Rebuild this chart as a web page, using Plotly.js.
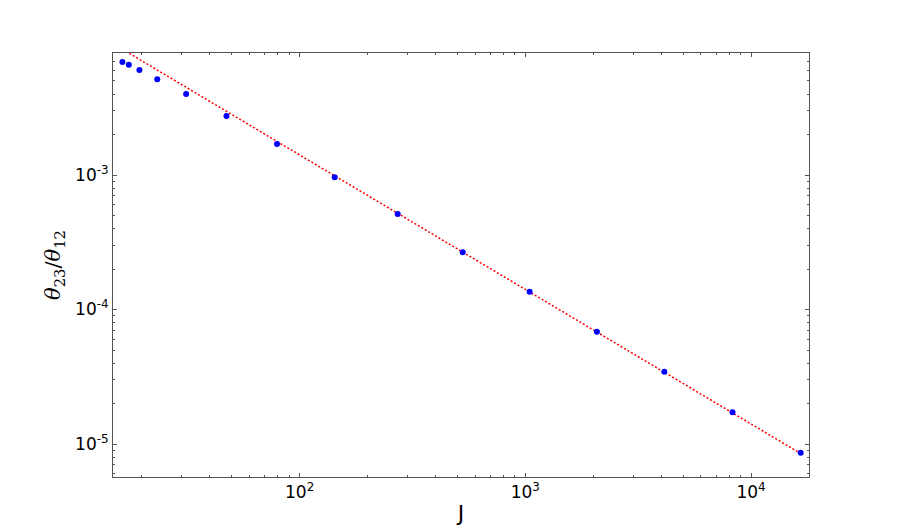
<!DOCTYPE html>
<html>
<head>
<meta charset="utf-8">
<script src="https://cdn.plot.ly/plotly-3.0.1.min.js"></script>
<style>
  html, body { margin: 0; padding: 0; background: #fff; }
  #chart { width: 900px; height: 531px; }
</style>
</head>
<body>
<div id="chart"></div>
<script>
// measured points, J vs theta23/theta12
var J = [16.4, 17.5, 19.5, 23.4, 31.4, 47.4, 79.4, 143, 272, 528, 1045, 2076, 4130, 8280, 16600];
var ratio = [6.92e-3, 6.61e-3, 6.04e-3, 5.15e-3, 4.00e-3, 2.75e-3, 1.70e-3, 9.61e-4,
             5.13e-4, 2.66e-4, 1.356e-4, 6.84e-5, 3.45e-5, 1.72e-5, 8.61e-6];

// fitted power law (end points)
var fitJ = [16.4, 16600];
var fitRatio = [8.6e-3, 8.5e-6];

var xTickVals = [1e2, 1e3, 1e4];
var xTickText = ['10<sup>2</sup>', '10<sup>3</sup>', '10<sup>4</sup>'];
var yTickVals = [1e-5, 1e-4, 1e-3];
var yTickText = ['10<sup>-5</sup>', '10<sup>-4</sup>', '10<sup>-3</sup>'];

function minorVals(lo, hi) {
    var out = [];
    for (var e = lo; e <= hi; e++) {
        for (var m = 2; m <= 9; m++) out.push(m * Math.pow(10, e));
    }
    return out;
}

var fit = {
    x: fitJ,
    y: fitRatio,
    mode: 'lines',
    type: 'scatter',
    line: {color: '#ff0000', width: 1.5, dash: '2px,2px'},
    hoverinfo: 'skip'
};

var pts = {
    x: J,
    y: ratio,
    mode: 'markers',
    type: 'scatter',
    marker: {color: '#0000ff', size: 6}
};

var axisStyle = {
    type: 'log',
    showgrid: false,
    zeroline: false,
    showline: true,
    linecolor: '#555',
    linewidth: 1,
    mirror: 'allticks',
    ticks: 'inside',
    ticklen: 4,
    tickcolor: '#555',
    tickmode: 'array',
    tickfont: {family: 'DejaVu Sans', size: 17, color: '#000'}
};

var layout = {
    width: 900,
    height: 531,
    margin: {l: 113, r: 91, t: 53, b: 54},
    paper_bgcolor: '#fff',
    plot_bgcolor: '#fff',
    showlegend: false,
    xaxis: Object.assign({}, axisStyle, {
        range: [1.173, 4.257],
        tickvals: xTickVals,
        ticktext: xTickText,
        minor: {tickvals: minorVals(1, 4), ticks: 'inside', ticklen: 2, tickcolor: '#555'},
        title: {text: 'J', font: {family: 'DejaVu Sans', size: 22, color: '#000'}, standoff: 4}
    }),
    yaxis: Object.assign({}, axisStyle, {
        range: [-5.245, -2.093],
        tickvals: yTickVals,
        ticktext: yTickText,
        minor: {tickvals: minorVals(-6, -3), ticks: 'inside', ticklen: 2, tickcolor: '#555'},
        title: {text: '<i>θ</i><sub>23</sub>/<i>θ</i><sub>12</sub>', font: {family: 'DejaVu Serif', size: 21, color: '#000'}, standoff: 8}
    })
};

Plotly.newPlot('chart', [fit, pts], layout, {displayModeBar: false, staticPlot: true});
</script>
</body>
</html>
